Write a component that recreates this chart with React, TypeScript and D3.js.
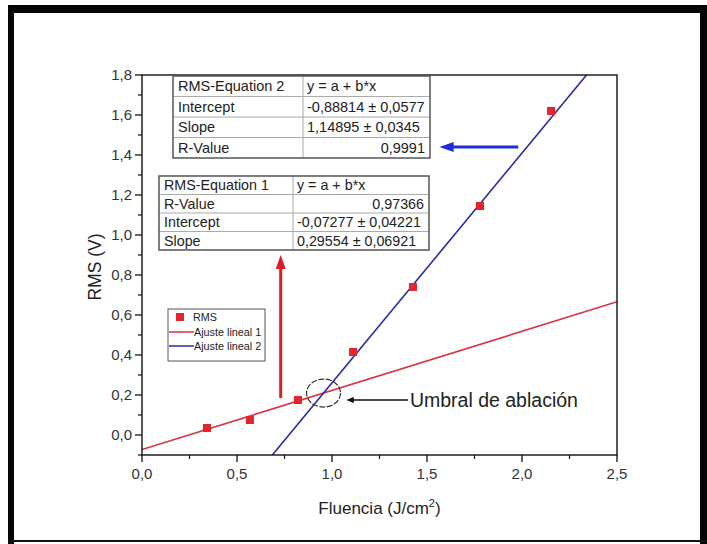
import React from "react";
import * as d3 from "d3";

// Measured points
const fluence = [0.342, 0.568, 0.821, 1.111, 1.426, 1.779, 2.153];
const rms = [0.035, 0.075, 0.175, 0.415, 0.74, 1.145, 1.62];

// Linear fit parameters (intercept a, slope b)
const fit1 = { a: -0.07277, b: 0.29554 };
const fit2 = { a: -0.88814, b: 1.14895 };

const xMajor = [0, 0.5, 1.0, 1.5, 2.0, 2.5];
const xMinor = [0.25, 0.75, 1.25, 1.75, 2.25];
const yMajor = [0, 0.2, 0.4, 0.6, 0.8, 1.0, 1.2, 1.4, 1.6, 1.8];
const yMinor = [-0.1, 0.1, 0.3, 0.5, 0.7, 0.9, 1.1, 1.3, 1.5, 1.7];

const table2Rows = [
  ["RMS-Equation 2", "y = a + b*x"],
  ["Intercept", "-0,88814 ± 0,0577"],
  ["Slope", "1,14895 ± 0,0345"],
  ["R-Value", "0,9991"],
];
const table1Rows = [
  ["RMS-Equation 1", "y = a + b*x"],
  ["R-Value", "0,97366"],
  ["Intercept", "-0,07277 ± 0,04221"],
  ["Slope", "0,29554 ± 0,06921"],
];

const legendItems = ["RMS", "Ajuste lineal 1", "Ajuste lineal 2"];

const W = 707;
const H = 544;
const FONT = "'Liberation Sans', Arial, sans-serif";
const RED = "#e3262e";
const LINE_RED = "#d9333f";
const BLUE = "#2a2aa8";

const fmt = (v: number, d: number) => v.toFixed(d).replace(".", ",");

function Table({ rows, x, y, w, colX, rowH, rightAlignRow, fontSize }: any) {
  const h = rows.length * rowH;
  return (
    <g fontFamily={FONT} fontSize={fontSize} fill="#222">
      <rect x={x} y={y} width={w} height={h} fill="white" stroke="none" />
      {rows.slice(1).map((_: any, i: number) => (
        <line key={i} x1={x} x2={x + w} y1={y + (i + 1) * rowH} y2={y + (i + 1) * rowH} stroke="#aaa" strokeWidth={1} />
      ))}
      <line x1={colX} x2={colX} y1={y} y2={y + h} stroke="#aaa" strokeWidth={1} />
      <rect x={x} y={y} width={w} height={h} fill="none" stroke="#555" strokeWidth={1.5} />
      {rows.map((r: string[], i: number) => (
        <g key={i}>
          <text x={x + 5} y={y + i * rowH + rowH / 2 + 5}>{r[0]}</text>
          <text
            x={i === rightAlignRow ? x + w - 5 : colX + 4}
            y={y + i * rowH + rowH / 2 + 5}
            textAnchor={i === rightAlignRow ? "end" : "start"}
          >
            {r[1]}
          </text>
        </g>
      ))}
    </g>
  );
}

export default function App() {
  const left = 142, right = 617, top = 75, bottom = 455;
  const x = d3.scaleLinear().domain([0, 2.5]).range([left, right]);
  const y = d3.scaleLinear().domain([-0.1, 1.8]).range([bottom, top]);

  const line = d3.line<[number, number]>().x((d) => x(d[0])).y((d) => y(d[1]));
  const fit1Pts: [number, number][] = [
    [0, fit1.a + fit1.b * 0],
    [2.5, fit1.a + fit1.b * 2.5],
  ];
  const x2a = (-0.1 - fit2.a) / fit2.b;
  const x2b = (1.8 - fit2.a) / fit2.b;
  const fit2Pts: [number, number][] = [
    [x2a, -0.1],
    [x2b, 1.8],
  ];

  // intersection of the two fits
  const xi = (fit1.a - fit2.a) / (fit2.b - fit1.b);
  const yi = fit1.a + fit1.b * xi;

  const sq = 8;

  return (
    <svg width={W} height={H} style={{ position: "absolute", left: 0, top: 0, background: "white" }}>
      <rect x={0} y={0} width={W} height={H} fill="white" />
      {/* outer frame */}
      <rect x={8} y={5} width={W - 8} height={8} fill="#050505" />
      <rect x={8} y={5} width={6} height={H - 5} fill="#050505" />
      <rect x={700} y={5} width={7} height={H - 5} fill="#050505" />
      <rect x={8} y={540} width={W - 8} height={2} fill="#111" />

      <defs>
        <clipPath id="plotClip">
          <rect x={left} y={top} width={right - left} height={bottom - top} />
        </clipPath>
      </defs>

      {/* fit lines */}
      <g clipPath="url(#plotClip)">
        <path d={line(fit1Pts) || ""} stroke={LINE_RED} strokeWidth={1.6} fill="none" />
        <path d={line(fit2Pts) || ""} stroke={BLUE} strokeWidth={1.6} fill="none" />
      </g>

      {/* plot frame */}
      <rect x={left} y={top} width={right - left} height={bottom - top} fill="none" stroke="#111" strokeWidth={1.4} />

      {/* ticks and tick labels */}
      <g fontFamily={FONT} fontSize={15} fill="#333">
        {yMajor.map((v) => (
          <g key={"ym" + v}>
            <line x1={left - 7} x2={left} y1={y(v)} y2={y(v)} stroke="#111" strokeWidth={1.3} />
            <text x={left - 10} y={y(v) + 5} textAnchor="end">{fmt(v, 1)}</text>
          </g>
        ))}
        {yMinor.map((v) => (
          <line key={"yn" + v} x1={left - 4} x2={left} y1={y(v)} y2={y(v)} stroke="#111" strokeWidth={1.2} />
        ))}
        {xMajor.map((v) => (
          <g key={"xm" + v}>
            <line x1={x(v)} x2={x(v)} y1={bottom} y2={bottom + 7} stroke="#111" strokeWidth={1.3} />
            <text x={x(v)} y={bottom + 24} textAnchor="middle">{fmt(v, 1)}</text>
          </g>
        ))}
        {xMinor.map((v) => (
          <line key={"xn" + v} x1={x(v)} x2={x(v)} y1={bottom} y2={bottom + 4} stroke="#111" strokeWidth={1.2} />
        ))}
      </g>

      {/* axis titles */}
      <text
        transform={`translate(${101},${(top + bottom) / 2 + 2}) rotate(-90)`}
        textAnchor="middle"
        fontFamily={FONT}
        fontSize={17.5}
        fill="#222"
      >
        RMS (V)
      </text>
      <text x={(left + right) / 2} y={514} textAnchor="middle" fontFamily={FONT} fontSize={17} fill="#222">
        Fluencia (J/cm
        <tspan dy={-7} fontSize={11}>2</tspan>
        <tspan dy={7}>)</tspan>
      </text>

      {/* data points */}
      {fluence.map((f, i) => (
        <rect key={i} x={x(f) - sq / 2} y={y(rms[i]) - sq / 2} width={sq} height={sq} fill={RED} />
      ))}

      {/* tables */}
      <Table rows={table2Rows} x={173} y={76} w={257} colX={303} rowH={20.5} rightAlignRow={3} fontSize={14.5} />
      <Table rows={table1Rows} x={159} y={176} w={270} colX={293} rowH={18.5} rightAlignRow={1} fontSize={14.3} />

      {/* legend */}
      <g fontFamily={FONT} fontSize={10.8} fill="#222">
        <rect x={168} y={309} width={97} height={52} fill="white" stroke="#555" strokeWidth={1} />
        <rect x={176} y={313} width={8} height={8} fill={RED} />
        <text x={193} y={321}>{legendItems[0]}</text>
        <line x1={169} x2={194} y1={332} y2={332} stroke={LINE_RED} strokeWidth={1.5} />
        <text x={194} y={336}>{legendItems[1]}</text>
        <line x1={169} x2={194} y1={346} y2={346} stroke={BLUE} strokeWidth={1.5} />
        <text x={194} y={350}>{legendItems[2]}</text>
      </g>

      {/* red arrow pointing up to table 1 */}
      <line x1={x(0.73)} x2={x(0.73)} y1={y(0.185)} y2={y(0.84)} stroke="#e01b22" strokeWidth={3} />
      <path
        d={`M${x(0.73)},${y(0.9)} L${x(0.73) - 5},${y(0.83)} L${x(0.73) + 5},${y(0.83)} Z`}
        fill="#e01b22"
      />

      {/* blue arrow pointing left to table 2 */}
      <line x1={x(1.98)} x2={x(1.62)} y1={y(1.44)} y2={y(1.44)} stroke="#1f2fd8" strokeWidth={3} />
      <path
        d={`M${x(1.565)},${y(1.44)} L${x(1.64)},${y(1.44) - 5} L${x(1.64)},${y(1.44) + 5} Z`}
        fill="#1f2fd8"
      />

      {/* ablation threshold marker */}
      <ellipse cx={x(xi)} cy={y(yi)} rx={17} ry={14} fill="none" stroke="#333" strokeWidth={1.2} strokeDasharray="6,1.5" />
      <line x1={x(1.4)} x2={x(1.1)} y1={y(0.175)} y2={y(0.175)} stroke="#111" strokeWidth={1.5} />
      <path
        d={`M${x(1.075)},${y(0.175)} L${x(1.115)},${y(0.175) - 3} L${x(1.115)},${y(0.175) + 3} Z`}
        fill="#111"
      />
      <text x={x(1.41)} y={y(0.175) + 7} fontFamily={FONT} fontSize={19.5} fill="#222">
        Umbral de ablación
      </text>
    </svg>
  );
}
